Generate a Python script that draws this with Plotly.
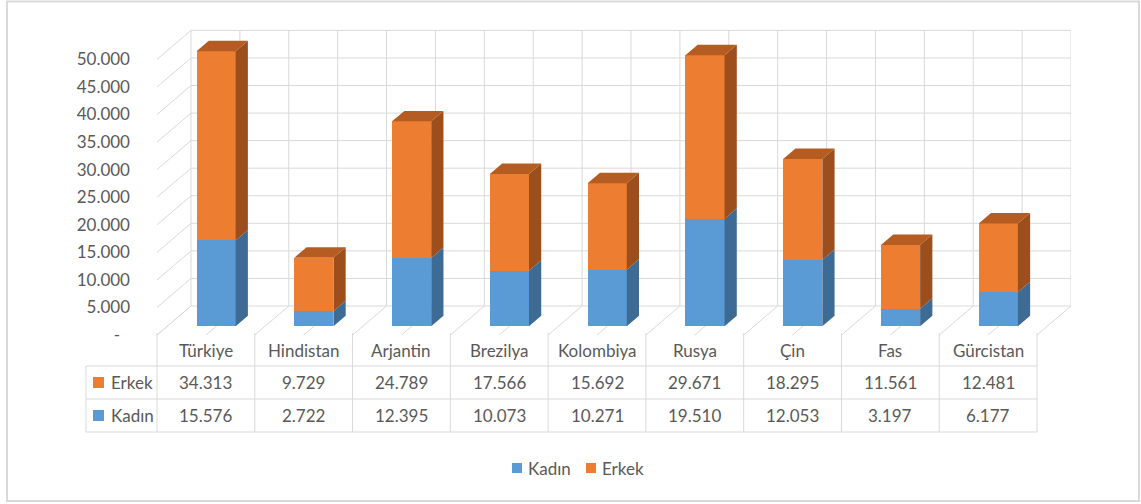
import plotly.graph_objects as go

# ---------------- data ----------------
countries = ["Türkiye", "Hindistan", "Arjantin", "Brezilya", "Kolombiya",
             "Rusya", "Çin", "Fas", "Gürcistan"]
erkek = [34313, 9729, 24789, 17566, 15692, 29671, 18295, 11561, 12481]
kadin = [15576, 2722, 12395, 10073, 10271, 19510, 12053, 3197, 6177]
series_names = ["Kadın", "Erkek"]
ytick_vals = list(range(0, 50001, 5000))
ytick_text = ["-\u2007"] + [f"{v // 1000}.000" for v in ytick_vals[1:]]

# ---------------- styling / geometry ----------------
W, H = 1141, 504
FONT = "Lato"
TXT = "#595959"
GRID = "#d9d9d9"
BLUE, BLUE_SIDE = "#5B9BD5", "#3E6B94"
ORANGE, ORANGE_SIDE, ORANGE_TOP = "#ED7D31", "#9C4E1C", "#B45C21"

PL, PR, PT, PB = 157, 1071, 20, 440      # plot area in pixels
Y0PX = 335                                # pixel row of value 0 on front plane
SX = 97.78                                # px per category
SY = 0.005512                             # px per value unit
DXD = 34 / SX                             # full depth offset (x, data units)
DYD = 29 / SY                             # full depth offset (y, data units)
DF, DB = 0.30, 0.66                       # bar front / back depth
BW = 0.40                                 # bar width (category units)
YMAX = 50000
n = len(countries)


def P(x, v, d):
    return x + d * DXD, v + d * DYD


def ppx(px):
    return (px - PL) / (PR - PL)


def ppy(py):
    return (PB - py) / (PB - PT)


def dy(py):
    return (Y0PX - py) / SY


fig = go.Figure()
shapes = []
annotations = []


def line_data(p0, p1, color=GRID, width=1, layer="below"):
    shapes.append(dict(type="line", xref="x", yref="y", x0=p0[0], y0=p0[1],
                       x1=p1[0], y1=p1[1], layer=layer,
                       line=dict(color=color, width=width)))


# back wall horizontals + left wall diagonals
for v in ytick_vals:
    line_data(P(-0.5, v, 1), P(n - 0.5, v, 1))
    line_data(P(-0.5, v, 0), P(-0.5, v, 1))
# back wall verticals + floor depth lines
for k in range(2 * n + 1):
    x = -0.5 + k * 0.5
    line_data(P(x, 0, 1), P(x, YMAX, 1))
    line_data(P(x, 0, 0), P(x, 0, 1))

# ---------------- bars: front faces ----------------
xf = [i + DF * DXD for i in range(n)]
fig.add_trace(go.Bar(x=xf, y=kadin, base=[DF * DYD] * n, width=BW,
                     marker=dict(color=BLUE, line=dict(width=0)),
                     name=series_names[0], hoverinfo="skip"))
fig.add_trace(go.Bar(x=xf, y=erkek, base=[k + DF * DYD for k in kadin], width=BW,
                     marker=dict(color=ORANGE, line=dict(width=0)),
                     name=series_names[1], hoverinfo="skip"))


def poly(pts, color):
    xs = [p[0] for p in pts] + [pts[0][0]]
    ys = [p[1] for p in pts] + [pts[0][1]]
    fig.add_trace(go.Scatter(x=xs, y=ys, mode="lines", fill="toself",
                             fillcolor=color, line=dict(width=0, color=color),
                             hoverinfo="skip", showlegend=False))


for i in range(n):
    xl, xr = i - BW / 2, i + BW / 2
    segs = [(0, kadin[i], BLUE_SIDE), (kadin[i], kadin[i] + erkek[i], ORANGE_SIDE)]
    for v0, v1, col in segs:
        poly([P(xr, v0, DF), P(xr, v0, DB), P(xr, v1, DB), P(xr, v1, DF)], col)
    top = kadin[i] + erkek[i]
    poly([P(xl, top, DF), P(xr, top, DF), P(xr, top, DB), P(xl, top, DB)], ORANGE_TOP)

# ---------------- data table ----------------
def line_paper(x0, y0, x1, y1, color=GRID, width=1):
    shapes.append(dict(type="line", xref="paper", yref="paper",
                       x0=ppx(x0), y0=ppy(y0), x1=ppx(x1), y1=ppy(y1),
                       line=dict(color=color, width=width)))


T_TOP, R1, R2, R3 = 333, 366, 399, 432
T_LEFT = 86
T_RIGHT = PL + n * SX
for k in range(n + 1):
    xp = PL + k * SX
    line_paper(xp, T_TOP, xp, R3)
line_paper(T_LEFT, R1, T_LEFT, R3)
for r in (R1, R2, R3):
    line_paper(T_LEFT, r, T_RIGHT, r)

fnt = dict(family=FONT, size=17, color=TXT)
rows = [(series_names[1], erkek, ORANGE, (R1 + R2) / 2),
        (series_names[0], kadin, BLUE, (R2 + R3) / 2)]
for i, c in enumerate(countries):
    annotations.append(dict(x=i, y=ppy((T_TOP + R1) / 2 + 1), xref="x", yref="paper",
                            text=c, showarrow=False, font=fnt,
                            xanchor="center", yanchor="middle"))
for name, vals, col, ymid in rows:
    shapes.append(dict(type="rect", xref="paper", yref="paper",
                       x0=ppx(93), x1=ppx(104), y0=ppy(ymid - 5.5), y1=ppy(ymid + 5.5),
                       fillcolor=col, line=dict(width=0)))
    annotations.append(dict(x=ppx(109), y=ppy(ymid), xref="paper", yref="paper",
                            text=name, showarrow=False, font=fnt,
                            xanchor="left", yanchor="middle"))
    for i, v in enumerate(vals):
        annotations.append(dict(x=i, y=ppy(ymid), xref="x", yref="paper",
                                text=f"{v:,}".replace(",", "."), showarrow=False,
                                font=fnt, xanchor="center", yanchor="middle"))

# ---------------- legend (manual) ----------------
LEG_Y = 468
for name, col, sx0, tx in [(series_names[0], BLUE, 512, 526),
                           (series_names[1], ORANGE, 586, 600)]:
    shapes.append(dict(type="rect", xref="paper", yref="paper",
                       x0=ppx(sx0), x1=ppx(sx0 + 10), y0=ppy(LEG_Y - 5), y1=ppy(LEG_Y + 5),
                       fillcolor=col, line=dict(width=0)))
    annotations.append(dict(x=ppx(tx), y=ppy(LEG_Y), xref="paper", yref="paper",
                            text=name, showarrow=False, font=fnt,
                            xanchor="left", yanchor="middle"))

# outer border
shapes.append(dict(type="rect", xref="paper", yref="paper",
                   x0=ppx(7), x1=ppx(1139), y0=ppy(1.5), y1=ppy(501),
                   line=dict(color=GRID, width=2), fillcolor="rgba(0,0,0,0)"))

fig.update_layout(
    width=W, height=H, autosize=False,
    margin=dict(l=PL, r=W - PR, t=PT, b=H - PB, pad=0),
    paper_bgcolor="white", plot_bgcolor="white",
    barmode="overlay", bargap=0, showlegend=False,
    shapes=shapes, annotations=annotations,
    font=dict(family=FONT, size=17, color=TXT),
    xaxis=dict(range=[-0.5, -0.5 + (PR - PL) / SX], visible=False, fixedrange=True),
    yaxis=dict(range=[dy(PB), dy(PT)], tickvals=ytick_vals, ticktext=ytick_text,
               showgrid=False, zeroline=False, showline=False, ticks="",
               ticklabelstandoff=26, tickfont=dict(family=FONT, size=17, color=TXT),
               fixedrange=True),
)

fig.write_html("out.html", include_plotlyjs=True, config={"displayModeBar": False},
               post_script="document.body.style.margin='0';document.body.style.overflow='hidden';")
